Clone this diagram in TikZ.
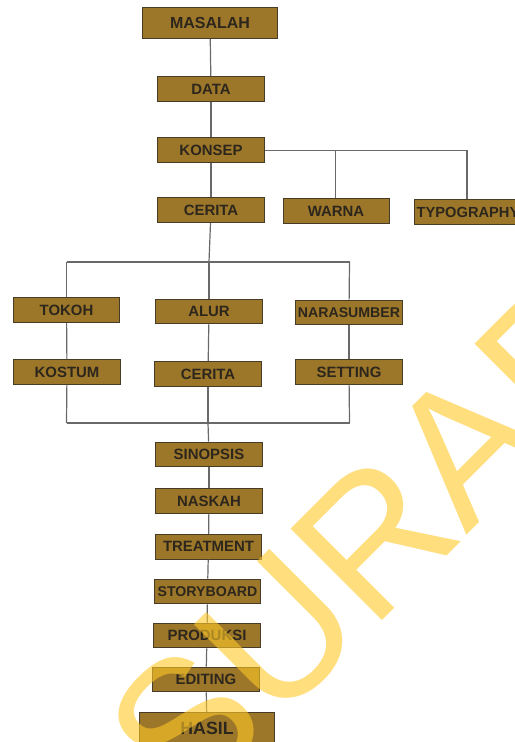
\documentclass[tikz,border=0pt]{standalone}
\usepackage{fontspec}
\setmainfont{Liberation Sans}
\definecolor{boxfill}{RGB}{156,119,42}
\definecolor{boxline}{RGB}{70,60,40}
\definecolor{boxtext}{RGB}{45,38,28}
\definecolor{linkline}{RGB}{105,105,105}
\definecolor{wmark}{RGB}{255,200,40}

\tikzset{every picture/.style={line width=0.75pt}}
\tikzset{
  stage/.style={draw=boxline, fill=boxfill, text=boxtext, inner sep=0pt,
    minimum width=80pt, minimum height=18.5pt,
    font=\bfseries\fontsize{11.2}{12}\selectfont},
  stagebig/.style={stage, minimum width=101pt, minimum height=23pt,
    font=\bfseries\fontsize{12}{13}\selectfont},
  narrow/.style={font=\bfseries\fontsize{10.6}{12}\selectfont},
  link/.style={draw=linkline, line width=0.9pt}
}

\begin{document}
\begin{tikzpicture}[x=0.75pt,y=0.75pt,yscale=-1,xscale=1]
\useasboundingbox (0,0) rectangle (514,742);

% Main column, top part
\node [stagebig] (masalah) at (210,23) {MASALAH};
\node [stage] (data) at (211,89) {DATA};
\node [stage] (konsep) at (211,150) {KONSEP};
\node [stage] (cerita) at (211,210) {CERITA};
% Side branches of konsep
\node [stage, minimum width=79.5pt] (warna) at (336,211) {WARNA};
\node [stage, minimum width=81pt, font=\bfseries\fontsize{11}{12}\selectfont] (typography) at (468,212) {TYPOGRAPHY};
% Three groups
\node [stage] (tokoh) at (66.5,310) {TOKOH};
\node [stage] (alur) at (209,311.5) {ALUR};
\node [stage, narrow] (narasumber) at (349,312.5) {NARASUMBER};
\node [stage] (kostum) at (67,372) {KOSTUM};
\node [stage] (ceritadua) at (208,374) {CERITA};
\node [stage] (setting) at (349,372) {SETTING};
% Main column, bottom part
\node [stage] (sinopsis) at (209,454.5) {SINOPSIS};
\node [stage] (naskah) at (209,501.3) {NASKAH};
\node [stage] (treatment) at (208.5,546.7) {TREATMENT};
\node [stage, narrow] (storyboard) at (207.5,591.5) {STORYBOARD};
\node [stage] (produksi) at (207,635.5) {PRODUKSI};
\node [stage] (editing) at (206,679.5) {EDITING};
\node [stagebig, font=\bfseries\fontsize{13.3}{14}\selectfont] (hasil) at (207,728) {HASIL};

% Junction points
\coordinate (kmid) at (335.5,150.5);
\coordinate (kend) at (467,150.5);
\coordinate (topmid) at (209,262);
\coordinate (topleft) at (66.5,262);
\coordinate (topright) at (349.5,262);
\coordinate (botmid) at (208,423);
\coordinate (botleft) at (66.5,423);
\coordinate (botright) at (349.5,423);

% Links
\draw [link] (masalah) -- (data);
\draw [link] (data) -- (konsep);
\draw [link] (konsep) -- (cerita);
\draw [link] (konsep.east |- kend) -- (kend) -- (typography.north -| kend);
\draw [link] (kmid) -- (warna.north -| kmid);
\draw [link] (cerita) -- (topmid);
\draw [link] (topleft) -- (topright);
\draw [link] (topleft) -- (tokoh);
\draw [link] (tokoh) -- (kostum);
\draw [link] (kostum) -- (botleft);
\draw [link] (topmid) -- (alur);
\draw [link] (alur) -- (ceritadua);
\draw [link] (ceritadua) -- (botmid);
\draw [link] (topright) -- (narasumber);
\draw [link] (narasumber) -- (setting);
\draw [link] (setting) -- (botright);
\draw [link] (botleft) -- (botright);
\draw [link] (botmid) -- (sinopsis);
\draw [link] (sinopsis) -- (naskah);
\draw [link] (naskah) -- (treatment);
\draw [link] (treatment) -- (storyboard);
\draw [link] (storyboard) -- (produksi);
\draw [link] (produksi) -- (editing);
\draw [link] (editing) -- (hasil);

% Watermark
\node [anchor=base west, inner sep=0pt, rotate=45, text=wmark, opacity=0.6,
  font=\fontsize{141}{141}\selectfont] (watermark) at (186,816) {SURABAYA};

\end{tikzpicture}
\end{document}
